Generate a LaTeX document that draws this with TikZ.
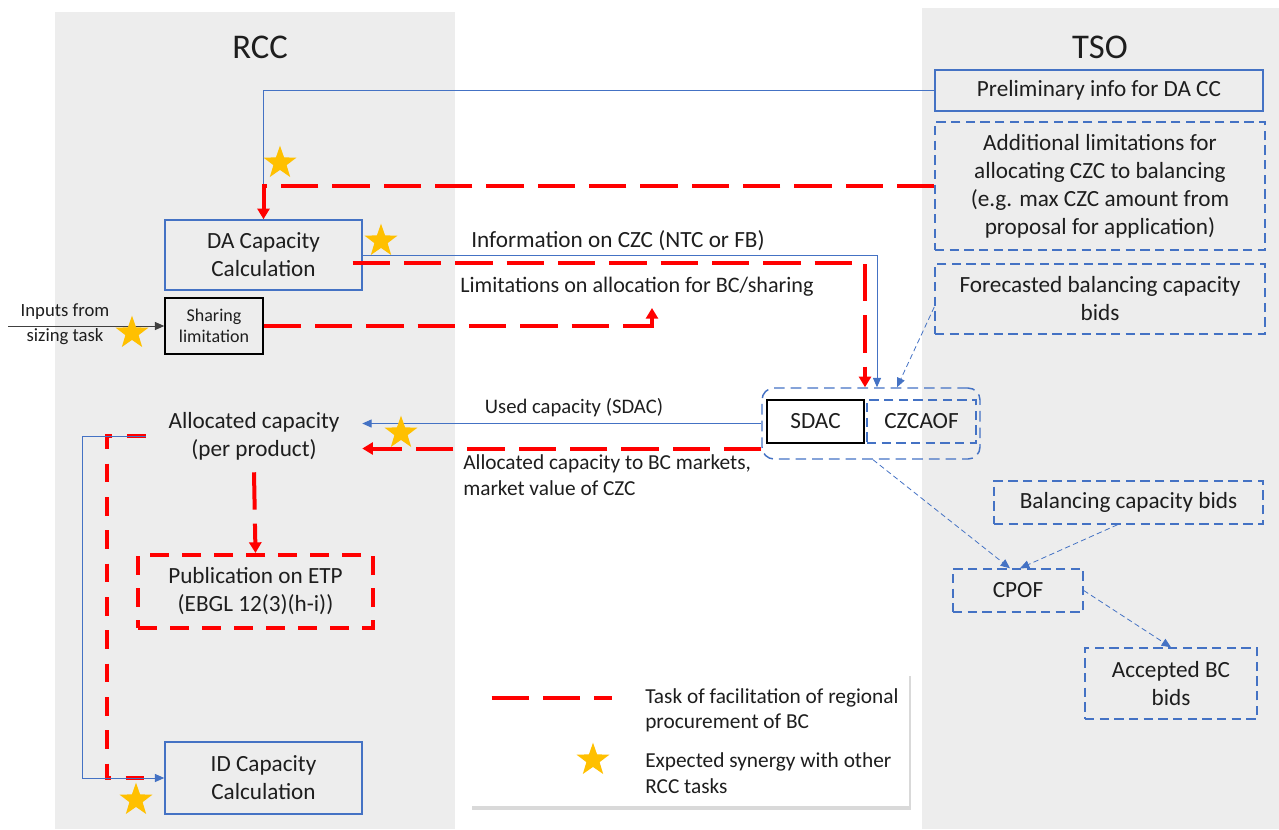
\documentclass[tikz,border=0pt]{standalone}
\usepackage{fontspec}
\setmainfont{Carlito}
\usepackage{tikz}
\usetikzlibrary{shapes.geometric, arrows.meta, positioning, calc, shadows}
\definecolor{tsoblue}{HTML}{4472C4}
\definecolor{bcred}{HTML}{FF0000}
\definecolor{syngold}{HTML}{FFC000}
\definecolor{panelgrey}{HTML}{EDEDED}
\definecolor{txtgrey}{HTML}{1E1E1E}

\begin{document}
\begin{tikzpicture}[
    x=0.75pt, y=-0.75pt,
    box/.style={draw=tsoblue, line width=1.1pt, align=center, inner sep=0pt, text=txtgrey, font=\fontsize{17.4}{21}\selectfont},
    dashbox/.style={box, dash pattern=on 7pt off 4pt},
    blackbox/.style={box, draw=black, line width=1.5pt},
    redbox/.style={box, draw=bcred, line width=3pt, dash pattern=on 14pt off 10pt},
    plain/.style={align=center, inner sep=0pt, text=txtgrey, font=\fontsize{17.4}{21}\selectfont},
    lbl/.style={align=left, inner sep=0pt, text=txtgrey, font=\fontsize{17.4}{21}\selectfont},
    smalllbl/.style={lbl, font=\fontsize{15.5}{19.5}\selectfont},
    title/.style={inner sep=0pt, text=txtgrey, font=\fontsize{26}{30}\selectfont},
    synstar/.style={star, star points=5, star point ratio=2.5, fill=syngold, draw=none, inner sep=0pt, minimum size=26pt},
    bline/.style={draw=tsoblue, line width=0.75pt},
    barrow/.style={bline, -{Triangle[length=7pt, width=6pt]}},
    darrow/.style={draw=tsoblue, line width=0.6pt, dash pattern=on 4pt off 2.5pt, -{Triangle[length=7pt, width=6pt]}},
    rline/.style={draw=bcred, line width=3pt, dash pattern=on 28pt off 10.5pt},
    rshort/.style={draw=bcred, line width=3pt, dash pattern=on 14pt off 11pt},
    rarrow/.style={rline, -{Triangle[length=8pt, width=9pt]}},
]
    \useasboundingbox (0,0) rectangle (1279,829);

    % Panels
    \fill[panelgrey] (55,12) rectangle (455,829);
    \fill[panelgrey] (922,8) rectangle (1279,829);
    \node[title] (rcc) at (260,47) {RCC};
    \node[title] (tso) at (1100,47) {TSO};

    % TSO side
    \node[box, minimum width=246pt, minimum height=30.75pt] (prelim) at (1099,90.5) {Preliminary info for DA CC};
    \node[dashbox, minimum width=247.5pt, minimum height=96pt] (addlim) at (1100,186) {Additional limitations for\\allocating CZC to balancing\\(e.g. max CZC amount from\\proposal for application)};
    \node[dashbox, minimum width=247.5pt, minimum height=52.5pt] (forecast) at (1100,299) {Forecasted balancing capacity\\bids};
    \node[dashbox, minimum width=201.75pt, minimum height=32.25pt] (balbids) at (1128.5,502.5) {Balancing capacity bids};
    \node[dashbox, minimum width=97.5pt, minimum height=32.25pt] (cpof) at (1018,590.5) {CPOF};
    \node[dashbox, minimum width=129pt, minimum height=53.25pt] (accbids) at (1171,683.5) {Accepted BC\\bids};

    % RCC side
    \node[box, minimum width=147.75pt, minimum height=52.5pt] (dacc) at (263.5,255) {DA Capacity\\Calculation};
    \node[blackbox, minimum width=73.5pt, minimum height=42pt, line width=1.1pt, font=\fontsize{13.5}{16}\selectfont] (sharing) at (214,326) {Sharing\\limitation};
    \node[plain, minimum width=162pt, minimum height=54pt] (alloc) at (254,436) {Allocated capacity\\(per product)};
    \node[redbox, minimum width=176.25pt, minimum height=54.75pt] (pub) at (255.5,591.5) {Publication on ETP\\(EBGL 12(3)(h-i))};
    \node[box, minimum width=147.75pt, minimum height=54pt] (idcc) at (263.5,778) {ID Capacity\\Calculation};

    % Market coupling group
    \node[draw=tsoblue, line width=1.1pt, dash pattern=on 8pt off 4.5pt, rounded corners=9pt, minimum width=163.5pt, minimum height=53.25pt] (group) at (871,423.5) {};
    \node[blackbox, minimum width=72.75pt, minimum height=32.25pt] (sdac) at (815.5,421.5) {SDAC};
    \node[dashbox, minimum width=81.75pt, minimum height=32.25pt] (czcaof) at (921.5,421.5) {CZCAOF};

    % Inputs from sizing
    \coordinate (sizing) at (8,326);
    \draw[draw=black!75, line width=0.75pt, -{Triangle[length=7pt, width=6pt]}] (sizing) -- (sharing.west);
    \node[plain, font=\fontsize{14}{19}\selectfont] (inputs) at (65,324.5) {Inputs from\\sizing task};

    % Flows into DA CC
    \draw[bline] (prelim.west) -| (dacc.north);
    \draw[rarrow] (addlim.west) -| (dacc.north);

    % Flows out of DA CC
    \draw[barrow] (dacc.east) -| ($(group.north)+(6,0)$);
    \node[lbl] (czcinfo) at (618,241) {Information on CZC (NTC or FB)};
    \draw[rarrow] ($(dacc.east)+(-10,8)$) -| ($(group.north)+(-6,0)$);
    \coordinate (limend) at (652,308);
    \draw[rarrow] (sharing.east) -| (limend);
    \node[lbl, font=\fontsize{16.6}{20}\selectfont] (limlbl) at (637,287) {Limitations on allocation for BC/sharing};
    \draw[darrow] ($(forecast.west)+(0,8)$) -- ($(group.north)+(26,0)$);

    % Back to RCC
    \draw[barrow] (group.west) -- (group.west -| alloc.east);
    \node[smalllbl] (usedlbl) at (574,408) {Used capacity (SDAC)};
    \coordinate (redstart) at ($(group.west)+(0,25)$);
    \draw[rarrow] (redstart) -- (redstart -| alloc.east);
    \node[smalllbl, anchor=north west, font=\fontsize{16}{19.5}\selectfont] (alloclbl) at (463,454) {Allocated capacity to BC markets,\\market value of CZC};
    \draw[rarrow] (alloc.south) -- (pub.north);
    \draw[rshort] (alloc.west) -- ++(-39,0) |- ($(idcc.west)+(-10,0)$);
    \draw[barrow] (alloc.west) -- ++(-63,0) |- (idcc.west);

    % Balancing capacity flows
    \draw[darrow] ($(group.south)+(2,0)$) -- ($(cpof.north)+(-8,0)$);
    \draw[darrow] ($(balbids.south)+(-11,0)$) -- ($(cpof.north)+(2,0)$);
    \draw[darrow] (cpof.east) -- (accbids.north);

    % Synergy stars
    \node[synstar] (star1) at (280,163) {};
    \node[synstar] (star2) at (381,241) {};
    \node[synstar] (star3) at (132,333) {};
    \node[synstar] (star4) at (401,433) {};
    \node[synstar] (star5) at (136,800) {};

    % Legend
    \node[fill=white, drop shadow={shadow xshift=1.5pt, shadow yshift=-3pt, opacity=0.3, fill=black!50}, minimum width=329.25pt, minimum height=100.5pt] (legend) at (689.5,739) {};
    \draw[rline] ($(legend.north west)+(22,26)$) -- ++(120,0);
    \node[synstar] (legstar) at (593,760) {};
    \node[lbl, anchor=west, font=\fontsize{16}{19}\selectfont] (legtask) at (645,710) {Task of facilitation of regional\\procurement of BC};
    \node[lbl, anchor=west, font=\fontsize{16}{19}\selectfont] (legsyn) at (645,773) {Expected synergy with other\\RCC tasks};

\end{tikzpicture}
\end{document}
